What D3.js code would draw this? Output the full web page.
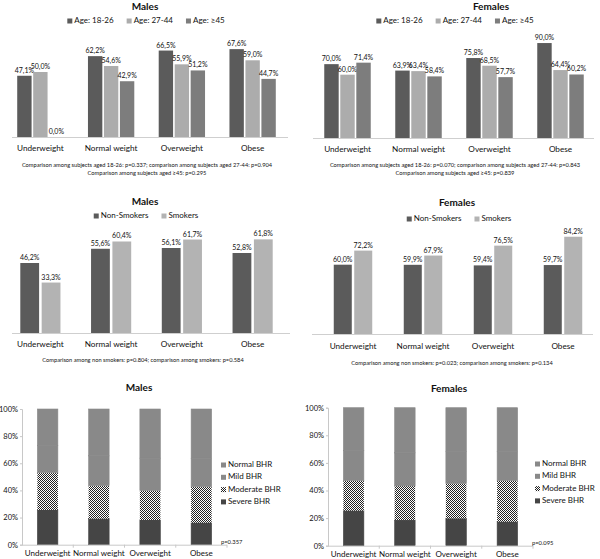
<!DOCTYPE html>
<html><head><meta charset="utf-8">
<script src="https://cdn.jsdelivr.net/npm/d3@7/dist/d3.min.js"></script>
<style>
html,body{margin:0;padding:0;background:#fff;}
svg{display:block;font-family:Lato,"Open Sans",sans-serif;}
</style></head>
<body>
<svg id="c" width="600" height="559"></svg>
<script>
// ---------- DATA ----------
const categories = ["Underweight", "Normal weight", "Overweight", "Obese"];
const ageSeries = ["Age: 18-26", "Age: 27-44", "Age: ≥45"];
const maleAge18_26 = [47.1, 62.2, 66.5, 67.6];
const maleAge27_44 = [50.0, 54.6, 55.9, 59.0];
const maleAge45 = [0.0, 42.9, 51.2, 44.7];
const femaleAge18_26 = [70.0, 63.9, 75.8, 90.0];
const femaleAge27_44 = [60.0, 63.4, 68.5, 64.4];
const femaleAge45 = [71.4, 58.4, 57.7, 60.2];
const smokeSeries = ["Non-Smokers", "Smokers"];
const maleNonSmokers = [46.2, 55.6, 56.1, 52.8];
const maleSmokers = [33.3, 60.4, 61.7, 61.8];
const femaleNonSmokers = [60.0, 59.9, 59.4, 59.7];
const femaleSmokers = [72.2, 67.9, 76.5, 84.2];
const bhrLevels = ["Severe BHR", "Moderate BHR", "Mild BHR", "Normal BHR"];
const maleSevere = [25.6, 19.2, 18.2, 16.2];
const maleModerate = [27.4, 24.3, 21.6, 26.5];
const maleMild = [20.0, 22.0, 24.0, 21.0];
const maleNormal = [27.0, 34.5, 36.2, 36.3];
const femaleSevere = [25.4, 18.6, 19.8, 17.4];
const femaleModerate = [21.7, 24.7, 25.4, 29.7];
const femaleMild = [22.0, 24.0, 23.0, 21.0];
const femaleNormal = [30.9, 32.7, 31.8, 31.9];
const pctTicks = [0, 20, 40, 60, 80, 100];
const notesAgeMale = ["Comparison among subjects aged 18-26: p=0.337; comparison among subjects aged 27-44: p=0.904", "Comparison among subjects aged ≥45: p=0.295"];
const notesAgeFemale = ["Comparison among subjects aged 18-26: p=0.070; comparison among subjects aged 27-44: p=0.843", "Comparison among subjects aged ≥45: p=0.839"];
const notesSmokeMale = ["Comparison among non smokers: p=0.804; comparison among smokers: p=0.584"];
const notesSmokeFemale = ["Comparison among non smokers: p=0.023; comparison among smokers: p=0.134"];
const pBhrMale = "p=0.357";
const pBhrFemale = "p=0.095";

// ---------- DRAW ----------
const svg = d3.select("#c");
const TXT = "#111";
const fmt = v => d3.format(".1f")(v).replace(".", ",") + "%";

const defs = svg.append("defs");
const pat = defs.append("pattern").attr("id", "chk").attr("width", 2).attr("height", 2)
  .attr("patternUnits", "userSpaceOnUse");
pat.append("rect").attr("width", 2).attr("height", 2).attr("fill", "#fff");
pat.append("rect").attr("x", 0).attr("y", 0).attr("width", 1).attr("height", 1).attr("fill", "#222");
pat.append("rect").attr("x", 1).attr("y", 1).attr("width", 1).attr("height", 1).attr("fill", "#222");

function legendRow(cx, y, names, colors) {
  const g = svg.append("g");
  let x = 0;
  names.forEach((n, i) => {
    g.append("rect").attr("x", x).attr("y", y - 4.5).attr("width", 5).attr("height", 5).attr("fill", colors[i]);
    const t = g.append("text").attr("x", x + 7).attr("y", y).attr("font-size", 8).attr("fill", TXT).text(n);
    x += 7 + t.node().getComputedTextLength() + 13;
  });
  x -= 13;
  g.attr("transform", `translate(${cx - x / 2},0)`);
}

function grouped(o) {
  const x0 = d3.scaleBand().domain(categories).range(o.range).paddingInner(o.padInner).paddingOuter(o.padOuter);
  const x1 = d3.scaleBand().domain(o.series).range([0, x0.bandwidth()]).padding(o.padSeries);
  const y = d3.scaleLinear().domain([0, 100]).range([o.base, o.top]);
  svg.append("text").attr("x", o.titleX).attr("y", o.titleY).attr("text-anchor", "middle")
    .attr("font-size", 10).attr("font-weight", "bold").attr("fill", TXT).text(o.title);
  legendRow(o.legX, o.legY, o.series, o.colors);
  const g = svg.append("g");
  categories.forEach((c, ci) => {
    o.series.forEach((s, si) => {
      const v = o.values[si][ci];
      const bx = x0(c) + x1(s);
      g.append("rect").attr("x", bx).attr("y", y(v)).attr("width", x1.bandwidth())
        .attr("height", y(0) - y(v)).attr("fill", o.colors[si]);
      g.append("text").attr("x", bx + x1.bandwidth() / 2).attr("y", y(v) - 3)
        .attr("text-anchor", "middle").attr("font-size", 7).attr("fill", TXT).text(fmt(v));
    });
  });
  g.append("line").attr("x1", o.axis[0]).attr("x2", o.axis[1]).attr("y1", o.base + 0.5).attr("y2", o.base + 0.5)
    .attr("stroke", "#cfcfcf").attr("stroke-width", 1);
  const ax = svg.append("g").attr("transform", `translate(0,${o.base})`)
    .call(d3.axisBottom(x0).tickSize(0).tickPadding(o.labPad));
  ax.select(".domain").remove();
  ax.selectAll("text").attr("font-size", 8.2).attr("fill", TXT).attr("font-family", "Lato");
  o.notes.forEach((n, i) => {
    svg.append("text").attr("x", o.noteX).attr("y", o.noteY + i * 8).attr("text-anchor", "middle")
      .attr("font-size", 5.7).attr("fill", TXT).text(n);
  });
}

const cDark = "#5b5b5b", cLight = "#acacac", cMid = "#7d7d7d";

grouped({title: "Males", titleX: 145, titleY: 10, legX: 146, legY: 23,
  series: ageSeries, colors: [cDark, cLight, cMid],
  values: [maleAge18_26, maleAge27_44, maleAge45],
  range: [5, 288], padInner: 0.3, padOuter: 0.15, padSeries: 0.1,
  base: 137, top: 7, axis: [12, 288], labPad: 8,
  notes: notesAgeMale, noteX: 147, noteY: 167});

grouped({title: "Females", titleX: 491, titleY: 10, legX: 455, legY: 23,
  series: ageSeries, colors: [cDark, cLight, cMid],
  values: [femaleAge18_26, femaleAge27_44, femaleAge45],
  range: [312, 596], padInner: 0.3, padOuter: 0.15, padSeries: 0.1,
  base: 138, top: 32.5, axis: [313, 594], labPad: 8,
  notes: notesAgeFemale, noteX: 455, noteY: 167});

grouped({title: "Males", titleX: 145, titleY: 205, legX: 146, legY: 218,
  series: smokeSeries, colors: [cDark, "#b3b3b3"],
  values: [maleNonSmokers, maleSmokers],
  range: [5, 288], padInner: 0.36, padOuter: 0.18, padSeries: 0.12,
  base: 333, top: 181.5, axis: [12, 290], labPad: 8,
  notes: notesSmokeMale, noteX: 143, noteY: 362});

grouped({title: "Females", titleX: 457, titleY: 206, legX: 459, legY: 221,
  series: smokeSeries, colors: [cDark, "#b3b3b3"],
  values: [femaleNonSmokers, femaleSmokers],
  range: [318, 598], padInner: 0.38, padOuter: 0.19, padSeries: 0.12,
  base: 334, top: 218.5, axis: [312, 593], labPad: 9,
  notes: notesSmokeFemale, noteX: 452, noteY: 365});

// ---------- Stacked BHR ----------
function stacked(o) {
  const rows = categories.map((c, i) => ({cat: c, "Severe BHR": o.vals[0][i], "Moderate BHR": o.vals[1][i],
    "Mild BHR": o.vals[2][i], "Normal BHR": o.vals[3][i]}));
  const st = d3.stack().keys(bhrLevels)(rows);
  const x = d3.scaleBand().domain(categories).range(o.range).paddingInner(0.6).paddingOuter(0.3);
  const y = d3.scaleLinear().domain([0, 100]).range([o.base, o.top]);
  const fills = {"Severe BHR": "#454545", "Moderate BHR": "url(#chk)", "Mild BHR": "#898989", "Normal BHR": "#898989"};
  svg.append("text").attr("x", o.titleX).attr("y", o.titleY).attr("text-anchor", "middle")
    .attr("font-size", 10).attr("font-weight", "bold").attr("fill", TXT).text(o.title);
  st.forEach(layer => {
    svg.append("g").selectAll("rect").data(layer).join("rect")
      .attr("x", d => x(d.data.cat)).attr("width", x.bandwidth())
      .attr("y", d => y(d[1])).attr("height", d => y(d[0]) - y(d[1]))
      .attr("fill", fills[layer.key]).attr("stroke", layer.key === "Moderate BHR" ? "none" : fills[layer.key])
      .attr("stroke-width", 0.6);
  });
  const ya = svg.append("g").attr("transform", `translate(${o.range[0]},0)`)
    .call(d3.axisLeft(y).tickValues(pctTicks).tickFormat(d => d + "%").tickSize(2).tickPadding(2));
  ya.select(".domain").attr("stroke", "#c8c8c8");
  ya.selectAll(".tick line").attr("stroke", "#c8c8c8");
  ya.selectAll("text").attr("font-size", 7.5).attr("fill", TXT).attr("font-family", "Lato");
  const xa = svg.append("g").attr("transform", `translate(0,${o.base})`)
    .call(d3.axisBottom(x).tickSize(0).tickPadding(6));
  xa.select(".domain").remove();
  xa.selectAll("text").attr("font-size", 8).attr("fill", TXT).attr("font-family", "Lato");
  svg.append("line").attr("x1", o.range[0]).attr("x2", o.range[1]).attr("y1", o.base + 0.5).attr("y2", o.base + 0.5)
    .attr("stroke", "#c8c8c8");
  const bnd = categories.map(c => x(c) - x.step() * x.paddingInner() / 2).slice(1).concat([o.range[1]]);
  bnd.forEach(b => svg.append("line").attr("x1", b).attr("x2", b).attr("y1", o.base).attr("y2", o.base + 3).attr("stroke", "#c8c8c8"));
  // legend (top-down: Normal, Mild, Moderate, Severe)
  const lg = bhrLevels.slice().reverse();
  lg.forEach((k, i) => {
    const yy = o.legY + i * 12.3;
    svg.append("rect").attr("x", o.legX).attr("y", yy - 4.5).attr("width", 5).attr("height", 5)
      .attr("fill", fills[k]);
    svg.append("text").attr("x", o.legX + 7).attr("y", yy).attr("font-size", 8).attr("fill", TXT).text(k);
  });
  svg.append("text").attr("x", o.pX).attr("y", o.pY).attr("font-size", 5.8).attr("fill", TXT).text(o.p);
}

stacked({title: "Males", titleX: 139, titleY: 391, vals: [maleSevere, maleModerate, maleMild, maleNormal],
  range: [22, 227], base: 544.7, top: 409, legX: 221, legY: 467, pX: 221, pY: 544, p: pBhrMale});
stacked({title: "Females", titleX: 449, titleY: 392, vals: [femaleSevere, femaleModerate, femaleMild, femaleNormal],
  range: [328, 533], base: 545.7, top: 407.7, legX: 535, legY: 466, pX: 532, pY: 545, p: pBhrFemale});
</script>
</body></html>
